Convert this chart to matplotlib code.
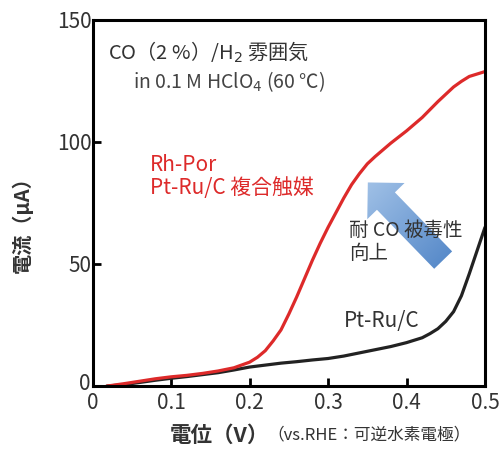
import numpy as np
import matplotlib
matplotlib.use("Agg")
import matplotlib.pyplot as plt
import matplotlib.transforms as mtransforms
from matplotlib.patches import FancyArrowPatch
from matplotlib.colors import LinearSegmentedColormap

plt.rcParams["font.family"] = ["Noto Sans CJK JP", "DejaVu Sans"]

# Rh-Por / Pt-Ru/C composite (red)
v_red = [0.018, 0.04, 0.06, 0.08, 0.10, 0.12, 0.14, 0.16, 0.18, 0.20, 0.21,
         0.22, 0.23, 0.24, 0.25, 0.26, 0.27, 0.28, 0.29, 0.30, 0.31, 0.32,
         0.33, 0.34, 0.35, 0.36, 0.38, 0.40, 0.42, 0.44, 0.46, 0.47, 0.48,
         0.50]
i_red = [0.0, 1.0, 2.0, 3.0, 3.8, 4.4, 5.2, 6.2, 7.5, 9.8, 11.8,
         14.5, 18.5, 23.0, 29.5, 36.5, 44.0, 51.5, 58.5, 65.0, 71.0, 77.0,
         82.5, 87.0, 91.0, 94.0, 99.5, 104.5, 110.0, 116.5, 122.5, 124.8,
         126.8, 128.8]

# Pt-Ru/C (black)
v_blk = [0.018, 0.04, 0.06, 0.08, 0.10, 0.12, 0.14, 0.16, 0.18, 0.20, 0.22,
         0.24, 0.26, 0.28, 0.30, 0.32, 0.34, 0.36, 0.38, 0.40, 0.42, 0.43,
         0.44, 0.45, 0.46, 0.47, 0.48, 0.49, 0.50]
i_blk = [0.0, 0.6, 1.5, 2.4, 3.2, 3.9, 4.7, 5.5, 6.6, 7.8, 8.6,
         9.4, 10.0, 10.7, 11.3, 12.3, 13.6, 14.9, 16.2, 17.8, 19.8, 21.5,
         23.5, 26.5, 30.5, 37.0, 46.0, 55.5, 65.0]

x_ticks = [0, 0.1, 0.2, 0.3, 0.4, 0.5]
x_ticklabels = ["0", "0.1", "0.2", "0.3", "0.4", "0.5"]
y_ticks = [0, 50, 100, 150]

# arrow tail / tip (V, uA)
arrow_tail = (0.4467, 51.6)
arrow_tip = (0.3507, 83.4)

txt = "#333333"
red = "#dd2a2a"

fig = plt.figure(figsize=(5.01, 4.5), dpi=100)
ax = fig.add_axes([0.185, 0.142, 0.783, 0.814])

ax.plot(v_blk, i_blk, color="#222222", lw=2.3, solid_capstyle="round")
ax.plot(v_red, i_red, color=red, lw=2.3, solid_capstyle="round")

ax.set_xlim(0, 0.5)
ax.set_ylim(0, 150)
ax.set_xticks(x_ticks)
ax.set_xticklabels(x_ticklabels)
ax.set_yticks(y_ticks)
ax.tick_params(direction="in", length=6, width=2, labelsize=15,
               colors="black", labelcolor=txt, pad=1)
ax.tick_params(axis="x", pad=4)
for s in ax.spines.values():
    s.set_linewidth(2.2)

# lift the y "0" label a little so it clears the x "0"
lab0 = ax.get_yticklabels()[0]
lab0.set_transform(lab0.get_transform() +
                   mtransforms.ScaledTranslation(-1 / 100, 5 / 100,
                                                 fig.dpi_scale_trans))

# blue arrow with gradient fill
arrow = FancyArrowPatch(
    arrow_tail, arrow_tip,
    arrowstyle="simple,head_length=18.7,head_width=37.4,tail_width=18",
    shrinkA=0, shrinkB=0, mutation_scale=1,
    fc="none", ec="none", zorder=3,
)
ax.add_patch(arrow)
cmap = LinearSegmentedColormap.from_list("bl", ["#4a80c4", "#aecbec"])
grad = np.linspace(0, 1, 256).reshape(-1, 1) * np.ones((1, 256))
grad = (grad + np.linspace(1, 0, 256).reshape(1, -1)) / 2
im = ax.imshow(grad, cmap=cmap, extent=[0.33, 0.47, 45, 90],
               origin="lower", aspect="auto", zorder=3)
im.set_clip_path(arrow)
ax.set_xlim(0, 0.5)
ax.set_ylim(0, 150)

# annotations
ax.text(0.0195, 136.7, "CO（2 %）/H$_2$ 雰囲気", fontsize=14.5, color=txt,
        va="center", ha="left")
ax.text(0.0515, 124.5, "in 0.1 M HClO$_4$ (60 ℃)", fontsize=14,
        color="#444444", va="center", ha="left")
ax.text(0.0732, 90.5, "Rh-Por", fontsize=15, color=red, va="center")
ax.text(0.0732, 81.1, "Pt-Ru/C 複合触媒", fontsize=15, color=red,
        va="center")
ax.text(0.3273, 63.9, "耐 CO 被毒性", fontsize=14, color=txt, va="center",
        zorder=5)
ax.text(0.3273, 54.5, "向上", fontsize=14, color=txt, va="center", zorder=5)
ax.text(0.3197, 26.7, "Pt-Ru/C", fontsize=15, color=txt, va="center",
        zorder=5,
        bbox=dict(fc="white", ec="none", pad=1.0))

ax.set_ylabel("電流（µA）", fontsize=14.5, color=txt, fontweight="bold")
ax.yaxis.set_label_coords(-0.152, 0.455)
fig.text(0.339, 0.033, "電位（V）", fontsize=15.5, color=txt,
         fontweight="bold", ha="left", va="center")
fig.text(0.533, 0.033, "（vs.RHE：可逆水素電極）", fontsize=12, color=txt,
         ha="left", va="center")

fig.savefig("out.png", dpi=100)
